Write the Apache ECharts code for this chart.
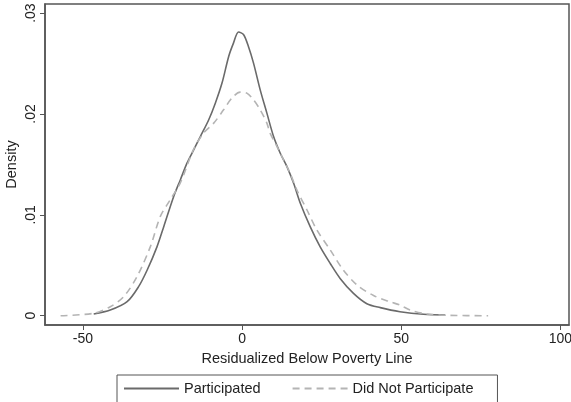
<!DOCTYPE html>
<html>
<head>
<meta charset="utf-8">
<script src="https://cdn.jsdelivr.net/npm/echarts@6/dist/echarts.min.js"></script>
<style>
html,body{margin:0;padding:0;background:#fff;}
#chart{width:571px;height:402px;}
</style>
</head>
<body>
<div id="chart"></div>
<script>
var xTicks = [-50, 0, 50, 100];
var yTicks = [0, 0.01, 0.02, 0.03];
var yTickLabels = ['0', '.01', '.02', '.03'];
var seriesNames = ['Participated', 'Did Not Participate'];

var participatedX = [-46.6, -41.4, -36.1, -32.5, -29.8, -26.7, -24.6, -21.5, -19.4, -17.3, -15.2, -13.1, -10.5, -8.4, -6.3, -4.2, -2.7, -1.1, 0.5, 2.0, 3.6, 5.7, 7.8, 9.9, 12.0, 14.1, 16.2, 18.3, 21.4, 24.5, 27.7, 30.8, 35.0, 39.2, 43.4, 49.6, 57.0, 63.8];
var participatedY = [0.00017, 0.00056, 0.00139, 0.00288, 0.00453, 0.00685, 0.00883, 0.0118, 0.01346, 0.01512, 0.01644, 0.01776, 0.0194, 0.02107, 0.02306, 0.0257, 0.02702, 0.02812, 0.02785, 0.02668, 0.02504, 0.02239, 0.02008, 0.01776, 0.01611, 0.01478, 0.01313, 0.01115, 0.00883, 0.00685, 0.00518, 0.0037, 0.00221, 0.00119, 0.0008, 0.0004, 0.00014, 0.00007];

var notParticipatedX = [-57.0, -46.6, -41.4, -37.2, -33.0, -28.8, -25.7, -22.6, -19.4, -15.3, -12.1, -8.9, -5.8, -3.2, -0.6, 1.5, 3.6, 5.7, 7.8, 8.8, 11.0, 12.0, 15.1, 17.2, 20.4, 23.5, 27.7, 31.8, 36.1, 41.3, 46.5, 49.6, 52.8, 58.0, 65.3, 77.3];
var notParticipatedY = [0, 0.00024, 0.00089, 0.00188, 0.00387, 0.00685, 0.00982, 0.01148, 0.01316, 0.01644, 0.0181, 0.01909, 0.02041, 0.02157, 0.02216, 0.02206, 0.0214, 0.02041, 0.01909, 0.0181, 0.01677, 0.01611, 0.01412, 0.01247, 0.01048, 0.0085, 0.00652, 0.00453, 0.00305, 0.002, 0.00138, 0.00106, 0.00056, 0.00017, 0.00004, 0];

function zip(xs, ys) { return xs.map(function (x, i) { return [x, ys[i]]; }); }

var chart = echarts.init(document.getElementById('chart'), null, {renderer: 'canvas'});
var frame = '#555555';
var font = 'Liberation Sans';
chart.setOption({
  animation: false,
  backgroundColor: '#ffffff',
  textStyle: {fontFamily: font},
  grid: {left: 45, top: 4, width: 524, height: 321, show: true, borderColor: frame, borderWidth: 1.5,
    backgroundColor: 'transparent', containLabel: false, outerBoundsMode: 'none'},
  xAxis: {
    type: 'value', min: -61.9, max: 102.7,
    name: 'Residualized Below Poverty Line', nameLocation: 'middle', nameGap: 26, nameMoveOverlap: false,
    nameTextStyle: {fontSize: 14.5, color: '#222', fontFamily: font},
    axisLine: {show: true, onZero: false, lineStyle: {color: frame, width: 1.5}},
    axisTick: {show: true, length: 5, customValues: xTicks, lineStyle: {color: frame}},
    axisLabel: {customValues: xTicks, margin: 7, fontSize: 14, color: '#222', fontFamily: font},
    splitLine: {show: false}
  },
  yAxis: {
    type: 'value', min: -0.00092, max: 0.0309,
    name: 'Density', nameLocation: 'middle', nameGap: 26, nameMoveOverlap: false,
    nameTextStyle: {fontSize: 14.5, color: '#222', fontFamily: font},
    axisLine: {show: true, onZero: false, lineStyle: {color: frame, width: 1.5}},
    axisTick: {show: true, length: 5, customValues: yTicks, lineStyle: {color: frame}},
    axisLabel: {customValues: yTicks, rotate: 90, margin: 7, fontSize: 14, color: '#222', fontFamily: font,
      formatter: function (v) { var i = yTicks.indexOf(v); return i >= 0 ? yTickLabels[i] : ''; }},
    splitLine: {show: false}
  },
  legend: {
    left: 117, top: 375, orient: 'horizontal',
    padding: [6, 24, 8, 6], itemGap: 31, itemWidth: 55, itemHeight: 12,
    borderColor: frame, borderWidth: 1,
    itemStyle: {color: 'rgba(0,0,0,0)', borderColor: 'rgba(0,0,0,0)', borderWidth: 0},
    textStyle: {fontSize: 14.5, color: '#222', fontFamily: font},
    data: seriesNames
  },
  series: [
    {name: seriesNames[0], type: 'line', data: zip(participatedX, participatedY), smooth: 0.3, symbol: 'none', showSymbol: false,
      lineStyle: {color: '#6a6a6a', width: 1.6}, itemStyle: {color: '#6a6a6a'}},
    {name: seriesNames[1], type: 'line', data: zip(notParticipatedX, notParticipatedY), smooth: 0.3, symbol: 'none', showSymbol: false,
      lineStyle: {color: '#b4b4b4', width: 1.6, type: [7, 5]}, itemStyle: {color: '#b4b4b4'}}
  ]
});
</script>
</body>
</html>
